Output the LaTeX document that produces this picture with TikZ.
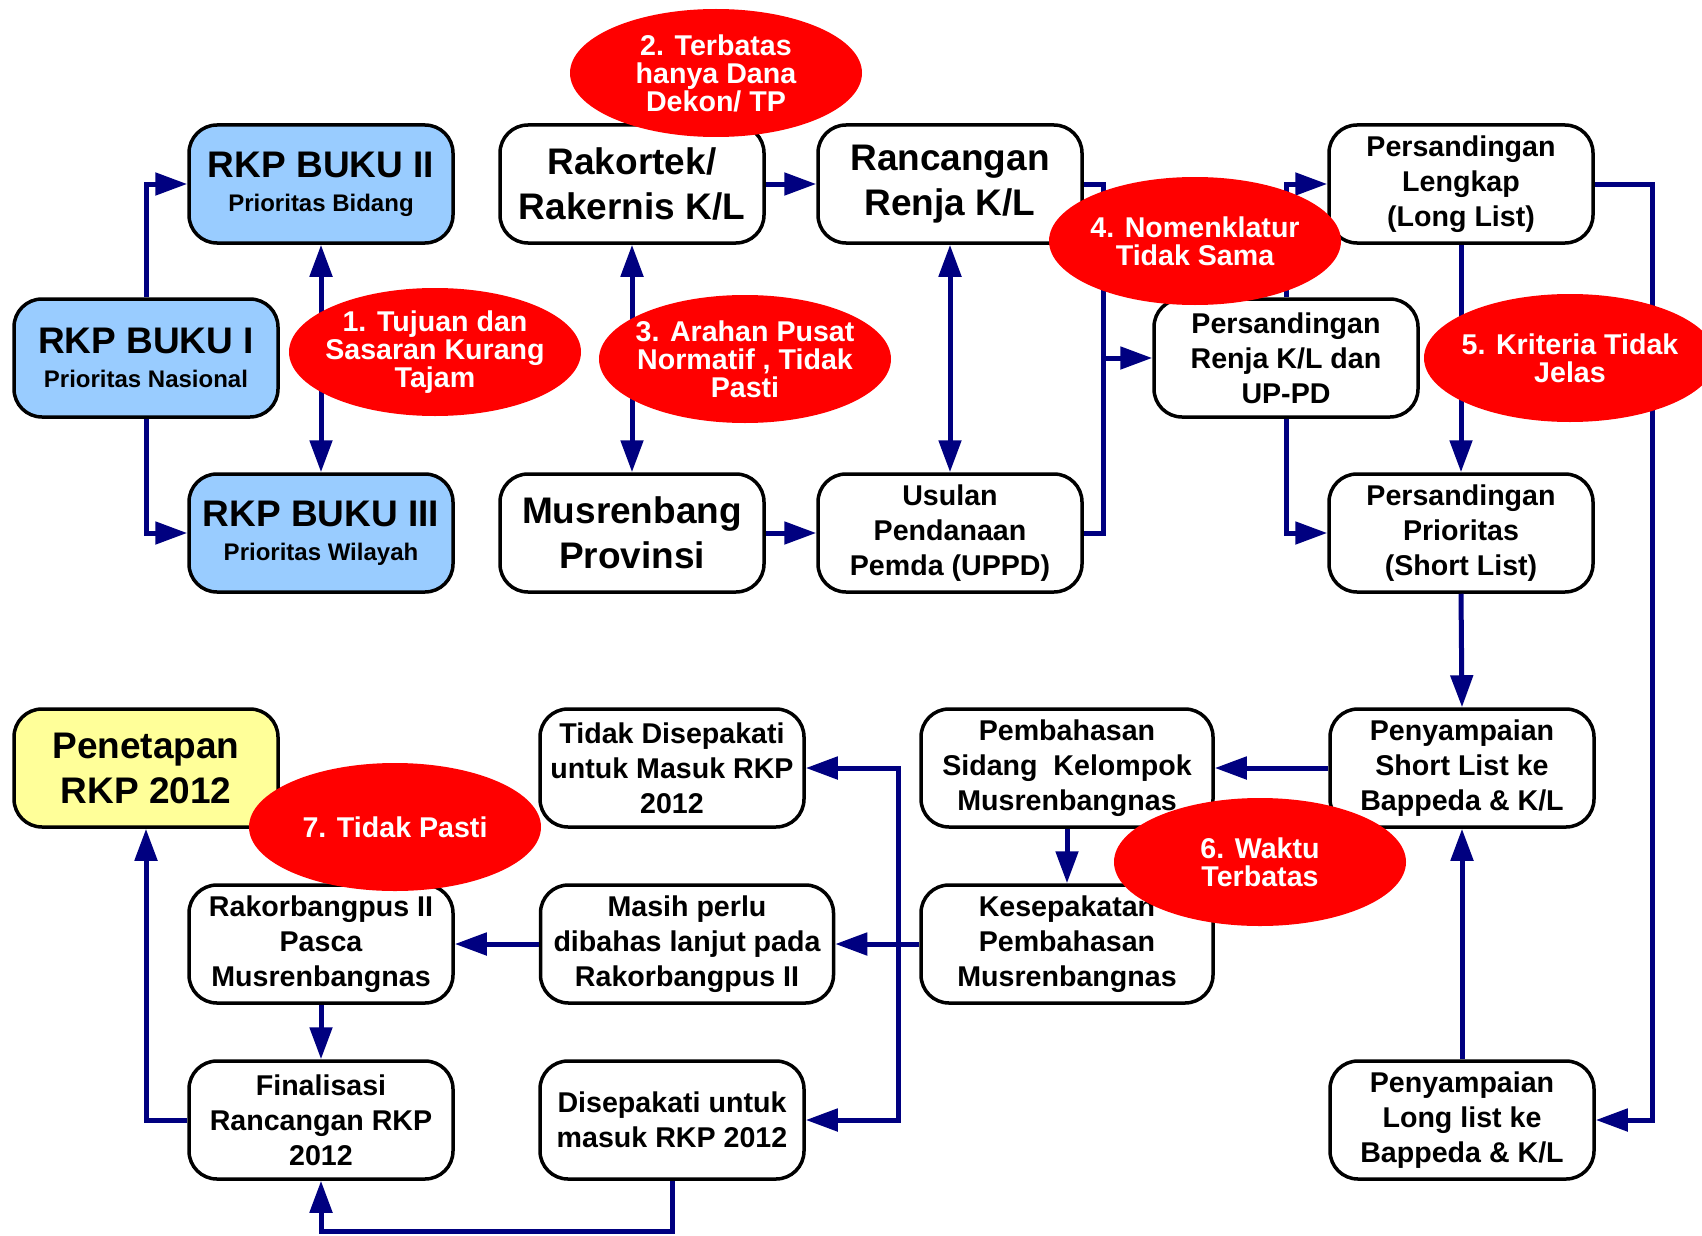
\documentclass[tikz,border=0pt]{standalone}
\usepackage{fontspec}
\setmainfont{Liberation Sans}
\usetikzlibrary{arrows.meta,shapes.geometric}
\definecolor{navyc}{RGB}{0,0,128}
\definecolor{lblue}{RGB}{153,204,255}
\definecolor{lyellow}{RGB}{255,255,153}
\begin{document}
\begin{tikzpicture}[x=1pt,y=-1pt,
  box/.style={draw=black, line width=3.5pt, rounded corners=28pt, minimum width=264pt, minimum height=118pt, align=center, inner sep=0pt, fill=white, font=\bfseries\fontsize{28.6}{35}\selectfont},
  wbox/.style={box, minimum width=292pt},
  bigbox/.style={box, font=\bfseries\fontsize{37}{45}\selectfont},
  bukubox/.style={box, fill=lblue, font=\bfseries\fontsize{24}{34}\selectfont},
  oval/.style={ellipse, fill=red, minimum width=292pt, minimum height=128pt, inner sep=0pt},
  ovaltext/.style={text=white, align=center, inner sep=0pt, font=\bfseries\fontsize{28.6}{28}\selectfont},
  conn/.style={draw=navyc, line width=5pt},
  arr/.style={conn, -{Triangle[length=32pt,width=22pt]}},
  darr/.style={conn, {Triangle[length=32pt,width=22pt]}-{Triangle[length=32pt,width=22pt]}}
]
\useasboundingbox (0,0) rectangle (1702,1236);
\clip (0,0) rectangle (1702,1236);
\fill[white] (0,0) rectangle (1702,1236);

% top left
\node[bukubox] (b1) at (146,358) {{\fontsize{37}{34}\selectfont RKP BUKU I}\\Prioritas Nasional};
\node[bukubox] (b2) at (321,184) {{\fontsize{37}{34}\selectfont RKP BUKU II}\\Prioritas Bidang};
\node[bukubox] (b3) at (321,533) {{\fontsize{37}{34}\selectfont RKP BUKU III}\\Prioritas Wilayah};

\node[bigbox] (rak) at (632,184) {Rakortek/\\Rakernis K/L};
\node[bigbox] (ran) at (950,184) {Rancangan\\Renja K/L};
\node[bigbox] (mus) at (632,533) {Musrenbang\\Provinsi};
\node[box] (usu) at (950,533) {Usulan\\Pendanaan\\Pemda (UPPD)};

\node[box] (psr) at (1286,358) {Persandingan\\Renja K/L dan\\UP-PD};
\node[box] (psl) at (1461,184) {Persandingan\\Lengkap\\(Long List)};
\node[box] (psp) at (1461,533) {Persandingan\\Prioritas\\(Short List)};

\node[box] (pss) at (1462,768) {Penyampaian\\Short List ke\\Bappeda \& K/L};
\node[box] (psll) at (1462,1120) {Penyampaian\\Long list ke\\Bappeda \& K/L};
\node[wbox] (pem) at (1067,768) {Pembahasan\\Sidang~~Kelompok\\Musrenbangnas};
\node[wbox] (kes) at (1067,944) {Kesepakatan\\Pembahasan\\Musrenbangnas};

\node[box] (tds) at (672,768) {Tidak Disepakati\\untuk Masuk RKP\\2012};
\node[wbox, minimum width=293pt] (mas) at (687,944) {Masih perlu\\dibahas lanjut pada\\Rakorbangpus II};
\node[box] (dis) at (672,1120) {Disepakati untuk\\masuk RKP 2012};

\node[box] (rk2) at (321,944) {Rakorbangpus II\\Pasca\\Musrenbangnas};
\node[box] (fin) at (321,1120) {Finalisasi\\Rancangan RKP\\2012};
\node[bigbox, fill=lyellow] (pen) at (146,768) {Penetapan\\RKP 2012};

% connectors
\draw[arr] (b1.north) |- (b2.west);
\draw[arr] (b1.south) |- (b3.west);
\draw[darr] (b2.south) -- (b3.north);

\draw[arr] (rak.east) -- (ran.west);
\draw[darr] (rak.south) -- (mus.north);
\draw[arr] (mus.east) -- (usu.west);
\draw[darr] (ran.south) -- (usu.north);

\coordinate (j1) at (1103,358);
\draw[conn] (ran.east) -| (j1) |- (usu.east);
\draw[arr] (j1) -- (psr.west);

\draw[arr] (psr.north) |- (psl.west);
\draw[arr] (psr.south) |- (psp.west);
\draw[arr] (psl.south) -- (psp.north);

\coordinate (j2) at (1652,650);
\draw[arr] (psl.east) -| (j2) |- (psll.east);

\draw[arr] (psp.south) -- (pss.north);
\draw[arr] (psll.north) -- (pss.south);
\draw[arr] (pss.west) -- (pem.east);
\draw[arr] (pem.south) -- (kes.north);
\draw[arr] (kes.west) -- (mas.east);

\coordinate (j3) at (898,944);
\draw[arr] (j3) |- (tds.east);
\draw[arr] (j3) |- (dis.east);

\draw[arr] (mas.west) -- (rk2.east);
\draw[arr] (rk2.south) -- (fin.north);
\draw[arr] (fin.west) -| (pen.south);

\coordinate (j4) at (500,1231);
\draw[arr] (dis.south) |- (j4) -| (fin.south);

% ovals
\node[oval] (e1) at (435,352) {};
\node[ovaltext] (e1t) at (e1) {1. Tujuan dan\\Sasaran Kurang\\Tajam};
\node[oval] (e2) at (716,73) {};
\node[ovaltext] (e2t) at (e2) {2. Terbatas\\hanya Dana\\Dekon/ TP};
\node[oval] (e3) at (745,359) {};
\node[ovaltext] (e3t) at (e3) {3. Arahan Pusat\\Normatif , Tidak\\Pasti};
\node[oval] (e4) at (1195,241) {};
\node[ovaltext] (e4t) at (e4) {4. Nomenklatur\\Tidak Sama};
\node[oval] (e5) at (1570,358) {};
\node[ovaltext] (e5t) at (e5) {5. Kriteria Tidak\\Jelas};
\node[oval] (e6) at (1260,862) {};
\node[ovaltext] (e6t) at (e6) {6. Waktu\\Terbatas};
\node[oval] (e7) at (395,827) {};
\node[ovaltext] (e7t) at (e7) {7. Tidak Pasti};
\end{tikzpicture}
\end{document}
